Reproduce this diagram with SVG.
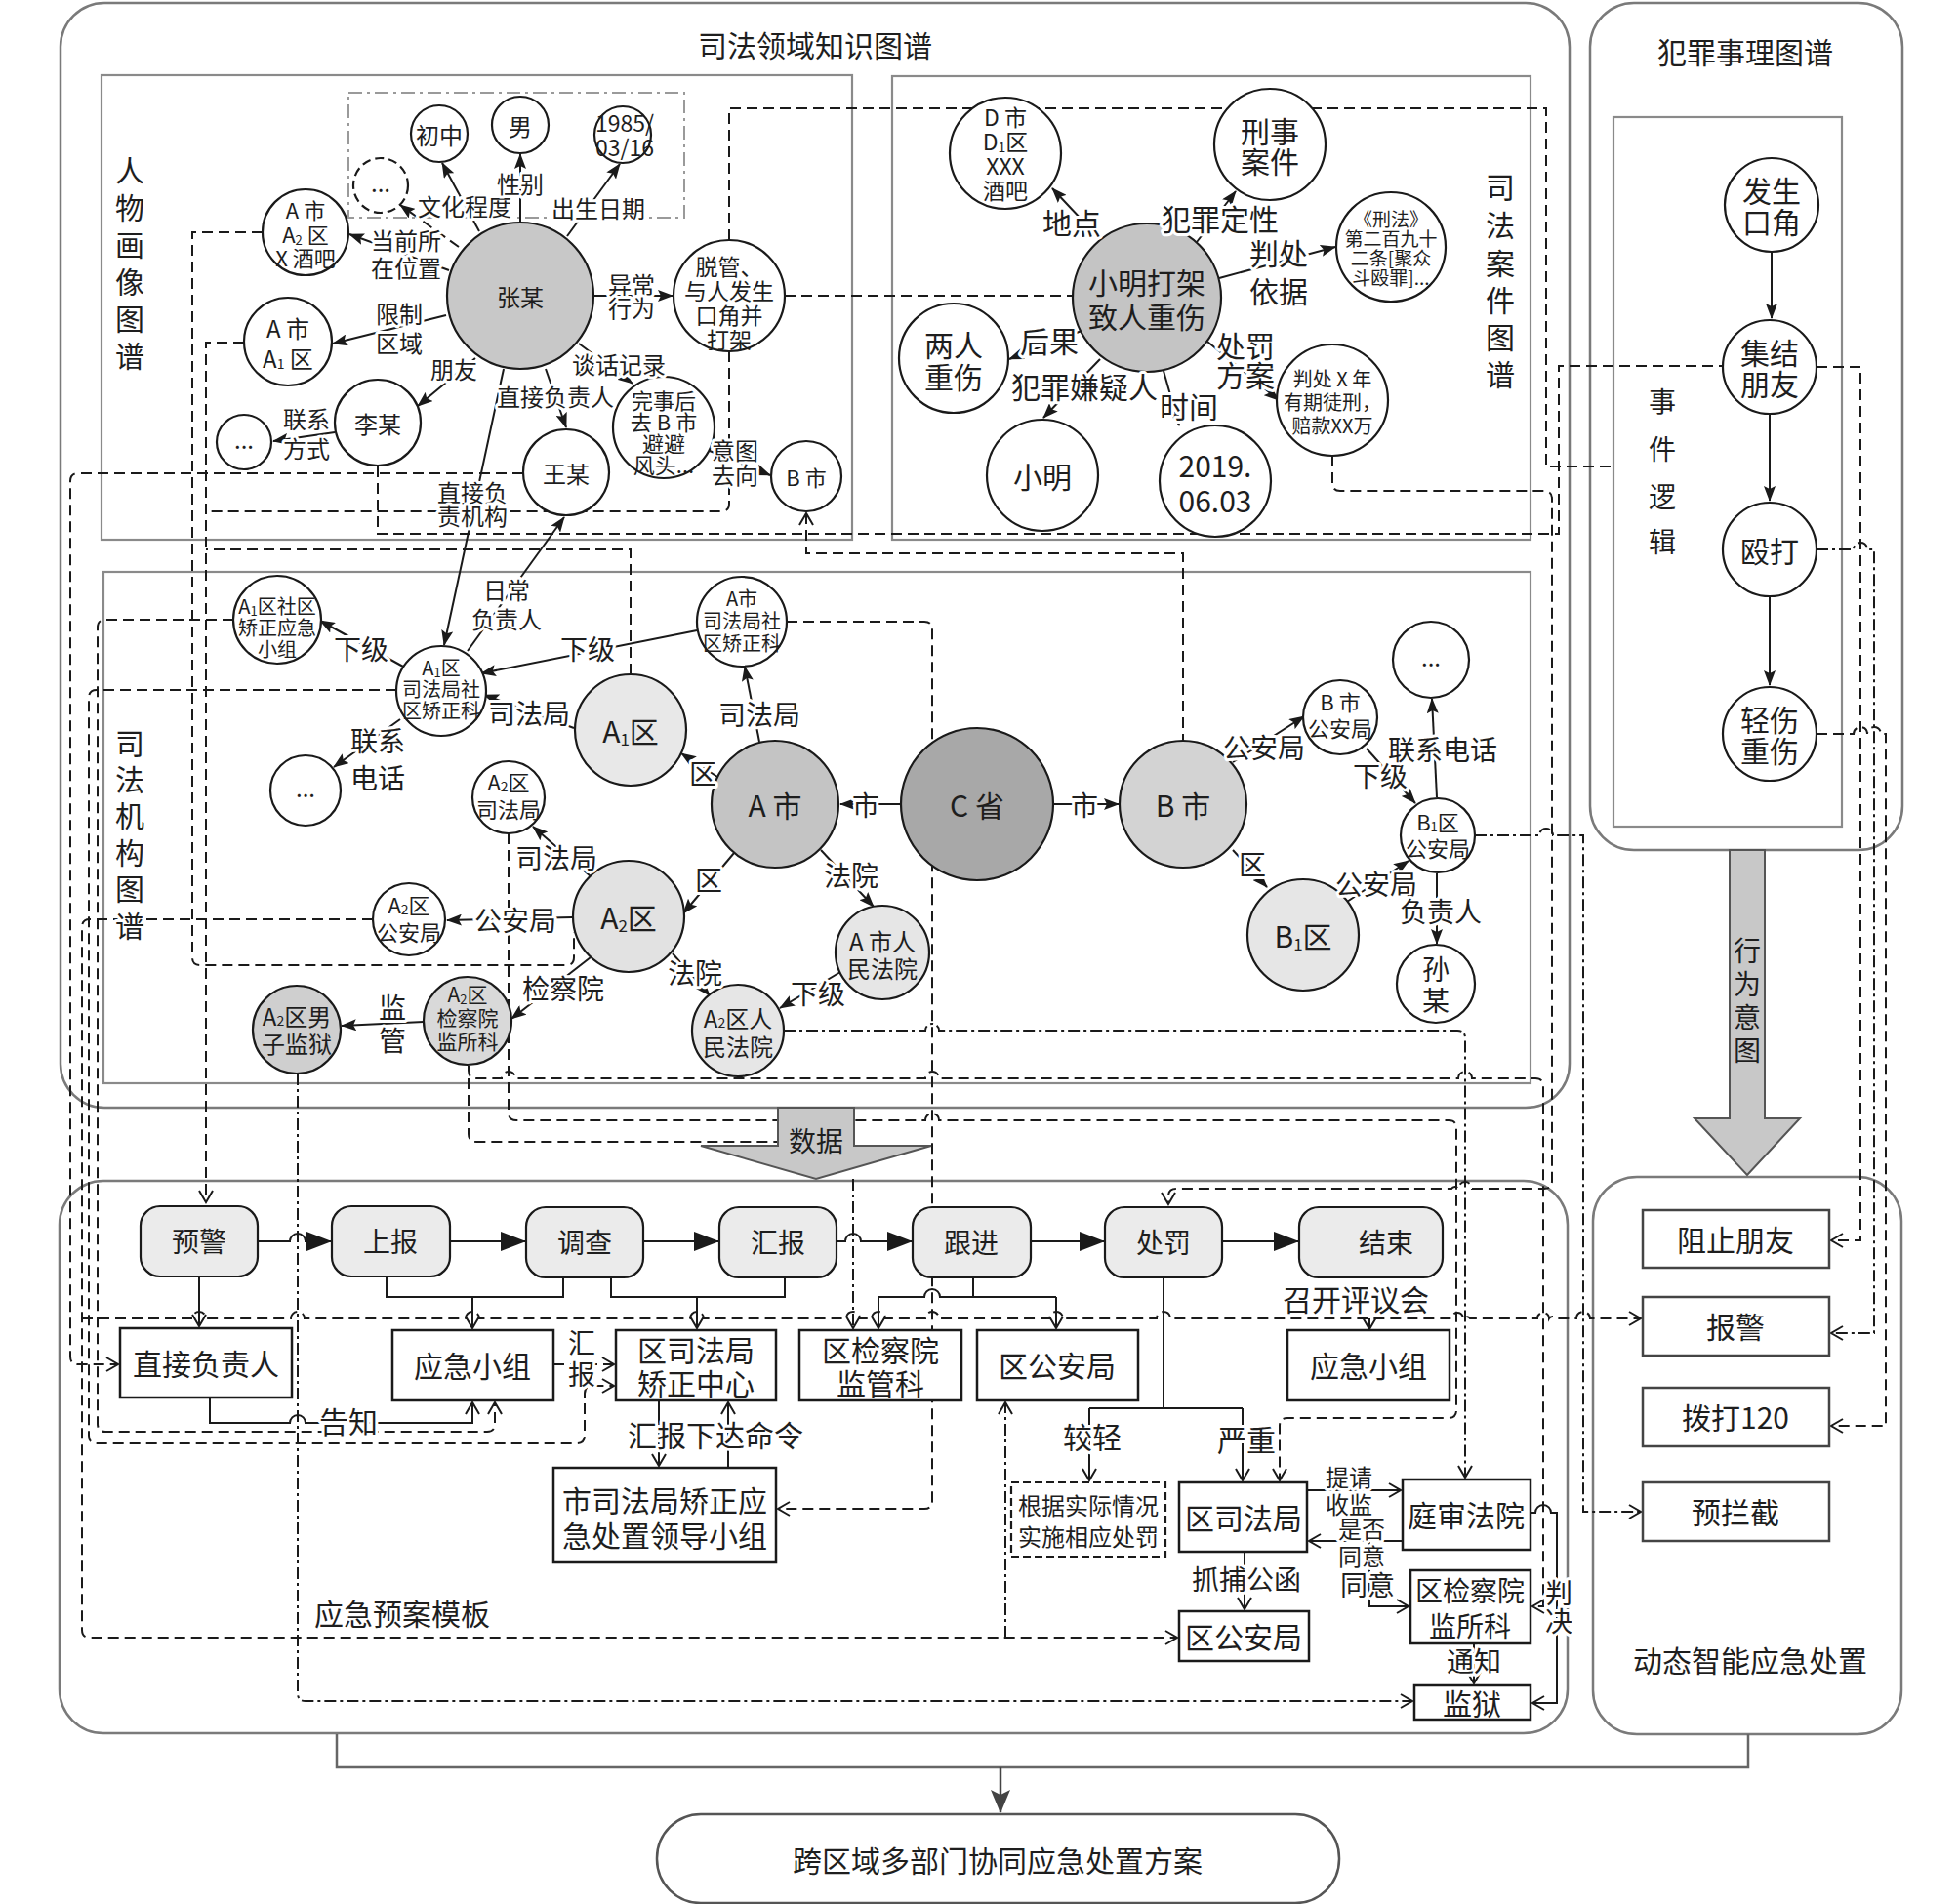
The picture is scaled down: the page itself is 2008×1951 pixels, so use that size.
<svg xmlns="http://www.w3.org/2000/svg" width="2008" height="1951" viewBox="0 0 2008 1951">
<defs>
<style>
.ctn{fill:none;stroke:#7a7a7a;stroke-width:2.5}
.box{fill:none;stroke:#8a8a8a;stroke-width:2.2}
.n{fill:#fff;stroke:#1a1a1a;stroke-width:2.2}
.e{fill:none;stroke:#1a1a1a;stroke-width:2}
.d{fill:none;stroke:#1a1a1a;stroke-width:2;stroke-dasharray:11 6}
.dd{fill:none;stroke:#1a1a1a;stroke-width:2;stroke-dasharray:12 4 3 4}
.pb{fill:#ebebeb;stroke:#1a1a1a;stroke-width:2.2}
.rb{fill:#fff;stroke:#1a1a1a;stroke-width:2.5}
text{font-family:"Noto Sans CJK SC","Noto Sans",sans-serif;fill:#1e1e1e;text-anchor:middle;dominant-baseline:central}
.lb{paint-order:stroke;stroke:#fff;stroke-width:6px;stroke-linejoin:round}
</style>
<marker id="af" markerUnits="userSpaceOnUse" markerWidth="16" markerHeight="12" refX="15" refY="6" orient="auto-start-reverse"><path d="M0,0 L16,6 L0,12 L3,6 z" fill="#1a1a1a"/></marker>
<marker id="afb" markerUnits="userSpaceOnUse" markerWidth="26" markerHeight="20" refX="25" refY="10" orient="auto"><path d="M0,0 L26,10 L0,20 z" fill="#1a1a1a"/></marker>
<marker id="afg" markerUnits="userSpaceOnUse" markerWidth="24" markerHeight="40" refX="23" refY="10" orient="auto"><path d="M0,0 L24,10 L0,20 L5,10 z" fill="#444"/></marker>
<marker id="ao" markerUnits="userSpaceOnUse" markerWidth="16" markerHeight="16" refX="14" refY="8" orient="auto-start-reverse"><path d="M2,1 L14,8 L2,15" fill="none" stroke="#1a1a1a" stroke-width="2"/></marker>
</defs>
<rect width="2008" height="1951" fill="#fff"/>

<g id="containers">
<rect class="ctn" x="62" y="3" width="1546" height="1132" rx="45"/>
<text x="835" y="45" font-size="30">司法领域知识图谱</text>
<rect class="box" x="104" y="77" width="769" height="476"/>
<rect class="box" x="914" y="78" width="654" height="475"/>
<rect class="box" x="106" y="586" width="1462" height="524"/>
<rect x="357" y="95" width="344" height="128" fill="none" stroke="#9a9a9a" stroke-width="2" stroke-dasharray="14 5 3 5"/>
<rect class="ctn" x="1629" y="3" width="320" height="868" rx="45"/>
<text x="1788" y="52" font-size="30">犯罪事理图谱</text>
<rect class="box" x="1653" y="120" width="234" height="727"/>
<rect class="ctn" x="1632" y="1206" width="316" height="571" rx="45"/>
<text x="1793" y="1700" font-size="30">动态智能应急处置</text>
<rect class="ctn" x="61" y="1210" width="1545" height="566" rx="45"/>
<text x="412" y="1652" font-size="30">应急预案模板</text>
<g font-size="30"><text x="133" y="173">人</text><text x="133" y="211">物</text><text x="133" y="249">画</text><text x="133" y="287">像</text><text x="133" y="325">图</text><text x="133" y="363">谱</text></g>
<g font-size="30"><text x="1537" y="190">司</text><text x="1537" y="229">法</text><text x="1537" y="268">案</text><text x="1537" y="306">件</text><text x="1537" y="344">图</text><text x="1537" y="382">谱</text></g>
<g font-size="28"><text x="1703" y="410">事</text><text x="1703" y="459">件</text><text x="1703" y="508">逻</text><text x="1703" y="554">辑</text></g>
</g>

<g id="connectors">
<path class="d" d="M747,246 V111 H1584 V478 H1653"/>
<path class="d" d="M804,303 H1099"/>
<path class="d" d="M747,360 V516 Q747,524 739,524 H211"/>
<path class="d" d="M646,691 V563 H211"/>
<path class="d" d="M250,351 H211 V1232" marker-end="url(#ao)"/>
<path class="d" d="M269,238 H197 V981 Q197,989 205,989 H580 Q588,989 588,981 V955"/>
<path class="d" d="M536,485 H80 Q72,485 72,493 V1390 Q72,1398 80,1398 H121" marker-end="url(#ao)"/>
<path class="d" d="M387,478 V547 H1597 V375 H1765"/>
<path class="d" d="M239,635 H108 Q100,635 100,643 V1459 Q100,1467 108,1467 H499 Q507,1467 507,1459 V1437" marker-end="url(#ao)"/>
<path class="d" d="M406,707 H99 Q91,707 91,715 V1471 Q91,1479 99,1479 H591 Q599,1479 599,1471 V1428 Q599,1420 607,1420 H629" marker-end="url(#ao)"/>
<path class="d" d="M382,942 H92 Q84,942 84,950 V1670 Q84,1678 92,1678 H1206" marker-end="url(#ao)"/>
<path class="dd" d="M1030,1678 V1437" marker-end="url(#ao)"/>
<path class="d" d="M84,1351 H197 A7,7 0 0 1 211,1351 H298 A7,7 0 0 1 312,1351 H477 A7,7 0 0 1 491,1351 H707 A7,7 0 0 1 721,1351 H867 A7,7 0 0 1 881,1351 H893 A7,7 0 0 1 907,1351 H948 A7,7 0 0 1 962,1351 H1075 A7,7 0 0 1 1089,1351 H1185 A7,7 0 0 1 1199,1351 H1487 A6,6 0 0 1 1499,1351 A4,4 0 0 1 1506,1351 H1575 A6,6 0 0 1 1587,1351 A4,4 0 0 1 1594,1351 H1615 A7,7 0 0 1 1629,1351 H1681" marker-end="url(#ao)"/>
<path class="d" d="M1403,1351 V1362" marker-end="url(#ao)"/>
<path class="dd" d="M305,1100 V1735 Q305,1743 313,1743 H1447" marker-end="url(#ao)"/>
<path class="d" d="M480,1092 V1097 Q480,1105 488,1105 H514 A7,7 0 0 1 528,1105 H948 A7,7 0 0 1 962,1105 H1494 A7,7 0 0 1 1508,1105 H1573 Q1581,1105 1581,1113 V1646 H1570" marker-end="url(#ao)"/>
<path class="d" d="M480,1105 V1162 Q480,1170 488,1170 H797"/>
<path class="d" d="M521,854 V1140 Q521,1148 529,1148 H948 A7,7 0 0 1 962,1148 H1484 Q1492,1148 1492,1156 V1445 Q1492,1453 1484,1453 H1319 Q1311,1453 1311,1461 V1517" marker-end="url(#ao)"/>
<path class="dd" d="M803,1056 H948 A7,7 0 0 1 962,1056 H1493 Q1501,1056 1501,1064 V1514" marker-end="url(#ao)"/>
<path class="d" d="M806,637 H947 Q955,637 955,645 V1538 Q955,1546 947,1546 H797" marker-end="url(#ao)"/>
<path class="d" d="M826,526 V567 H1212 V759" marker-start="url(#ao)"/>
<path class="dd" d="M1511,856 H1577 A7,7 0 0 1 1591,856 H1622 V1549 H1681" marker-end="url(#ao)"/>
<path class="d" d="M1365,467 V495 Q1365,503 1373,503 H1582 Q1590,503 1590,511 V1210 Q1590,1218 1582,1218 H1508 A7,7 0 0 0 1494,1218 A4,4 0 0 0 1487,1218 H1205 Q1197,1218 1197,1226 V1234" marker-end="url(#ao)"/>
<path class="d" d="M1861,376 H1906 V1271 H1876" marker-end="url(#ao)"/>
<path class="dd" d="M1861,563 H1899 A7,7 0 0 1 1913,563 H1920 V1366 H1876" marker-end="url(#ao)"/>
<path class="d" d="M1861,752 H1899 A7,7 0 0 1 1913,752 A7,7 0 0 1 1927,752 H1932 V1461 H1876" marker-end="url(#ao)"/>
<path class="dd" d="M874,1208 V1361" marker-end="url(#ao)"/>

<!-- person graph edges -->
<path class="e" d="M491,237 L453,167" marker-end="url(#af)"/>
<path class="e" d="M533,228 L533,158" marker-end="url(#af)"/>
<path class="e" d="M581,242 L635,168" marker-end="url(#af)"/>
<path class="d" d="M470,253 L410,210" marker-end="url(#af)"/>
<path class="e" d="M460,277 L358,240" marker-end="url(#af)"/>
<path class="e" d="M457,323 L341,352" marker-end="url(#af)"/>
<path class="e" d="M487,367 L428,416" marker-end="url(#af)"/>
<path class="e" d="M608,303 L689,303" marker-end="url(#af)"/>
<path class="e" d="M593,352 L648,393" marker-end="url(#af)"/>
<path class="e" d="M559,378 L580,438" marker-end="url(#af)"/>
<path class="e" d="M516,378 L455,661" marker-end="url(#af)"/>
<path class="e" d="M479,667 L578,530" marker-end="url(#af)"/>
<path class="e" d="M343,443 L280,452" marker-end="url(#af)"/>
<path class="e" d="M722,460 L789,487" marker-end="url(#af)"/>
<!-- case graph edges -->
<path class="e" d="M1124,242 L1078,193" marker-end="url(#af)"/>
<path class="e" d="M1226,248 L1266,196" marker-end="url(#af)"/>
<path class="e" d="M1249,285 L1368,253" marker-end="url(#af)"/>
<path class="e" d="M1113,337 L1034,368" marker-end="url(#af)"/>
<path class="e" d="M1127,368 L1069,428" marker-end="url(#af)"/>
<path class="e" d="M1192,380 L1208,436" marker-end="url(#af)"/>
<path class="e" d="M1237,350 L1310,410" marker-end="url(#af)"/>
<!-- institution edges -->
<path class="e" d="M413,683 L328,636" marker-end="url(#af)"/>
<path class="e" d="M714,646 L493,690" marker-end="url(#af)"/>
<path class="e" d="M588,746 L496,712" marker-end="url(#af)"/>
<path class="e" d="M778,760 L763,683" marker-end="url(#af)"/>
<path class="e" d="M410,737 L342,786" marker-end="url(#af)"/>
<path class="e" d="M735,796 L698,772" marker-end="url(#af)"/>
<path class="e" d="M923,824 L861,824" marker-end="url(#af)"/>
<path class="e" d="M605,898 L546,847" marker-end="url(#af)"/>
<path class="e" d="M752,874 L700,936" marker-end="url(#af)"/>
<path class="e" d="M841,871 L895,929" marker-end="url(#af)"/>
<path class="e" d="M586,940 L458,943" marker-end="url(#af)"/>
<path class="e" d="M689,977 L727,1020" marker-end="url(#af)"/>
<path class="e" d="M605,981 L524,1044" marker-end="url(#af)"/>
<path class="e" d="M861,996 L799,1033" marker-end="url(#af)"/>
<path class="e" d="M434,1047 L350,1051" marker-end="url(#af)"/>
<path class="e" d="M1079,824 L1146,824" marker-end="url(#af)"/>
<path class="e" d="M1263,781 L1336,734" marker-end="url(#af)"/>
<path class="e" d="M1400,767 L1450,823" marker-end="url(#af)"/>
<path class="e" d="M1472,817 L1467,716" marker-end="url(#af)"/>
<path class="e" d="M1263,871 L1298,909" marker-end="url(#af)"/>
<path class="e" d="M1380,924 L1443,882" marker-end="url(#af)"/>
<path class="e" d="M1472,895 L1472,967" marker-end="url(#af)"/>
<!-- event logic -->
<path class="e" d="M1815,258 V326" marker-end="url(#af)"/>
<path class="e" d="M1813,424 V513" marker-end="url(#af)"/>
<path class="e" d="M1813,611 V702" marker-end="url(#af)"/>
<!-- process flow -->
<path class="e" d="M264,1272 H297 A8,8 0 0 1 313,1272 H339" marker-end="url(#afb)"/>
<path class="e" d="M461,1272 H538" marker-end="url(#afb)"/>
<path class="e" d="M659,1272 H736" marker-end="url(#afb)"/>
<path class="e" d="M857,1272 H866 A8,8 0 0 1 882,1272 H934" marker-end="url(#afb)"/>
<path class="e" d="M1056,1272 H1131" marker-end="url(#afb)"/>
<path class="e" d="M1252,1272 H1330" marker-end="url(#afb)"/>
<path class="e" d="M204,1308 V1359" marker-end="url(#ao)"/>
<path class="e" d="M396,1308 V1329 H577 V1308"/>
<path class="e" d="M484,1329 V1361" marker-end="url(#ao)"/>
<path class="e" d="M626,1308 V1329 H804 V1308"/>
<path class="e" d="M714,1329 V1361" marker-end="url(#ao)"/>
<path class="e" d="M997,1309 V1329"/>
<path class="e" d="M900,1329 H947 A8,8 0 0 1 963,1329 H1082"/>
<path class="e" d="M900,1329 V1361" marker-end="url(#ao)"/>
<path class="e" d="M1082,1329 V1361" marker-end="url(#ao)"/>
<path class="e" d="M1192,1308 V1443"/>
<path class="e" d="M1116,1443 H1273"/>
<path class="e" d="M1116,1443 V1517" marker-end="url(#ao)"/>
<path class="e" d="M1273,1443 V1517" marker-end="url(#ao)"/>
<path class="e" d="M215,1432 V1458 H297 A8,8 0 0 1 313,1458 H484 V1437" marker-end="url(#ao)"/>
<path class="d" d="M567,1398 H629" marker-end="url(#ao)"/>
<path class="e" d="M675,1435 V1502" marker-end="url(#ao)"/>
<path class="e" d="M746,1504 V1437" marker-end="url(#ao)"/>
<path class="e" d="M1339,1527 H1435" marker-end="url(#ao)"/>
<path class="e" d="M1437,1579 H1341" marker-end="url(#ao)"/>
<path class="e" d="M1403,1579 V1646 H1443" marker-end="url(#ao)"/>
<path class="e" d="M1275,1590 V1649" marker-end="url(#ao)"/>
<path class="e" d="M1510,1684 V1725" marker-end="url(#ao)"/>
<path class="e" d="M1568,1550 H1573 A8,8 0 0 1 1589,1550 H1595 V1745 H1570" marker-end="url(#ao)"/>
<!-- bottom bracket -->
<path d="M345,1777 V1811 H1791 V1777" fill="none" stroke="#666" stroke-width="2.5"/>
<path d="M1025,1811 V1857" fill="none" stroke="#444" stroke-width="2.5" marker-end="url(#afg)"/>
</g>

<g id="big-arrows">
<polygon points="797,1135 875,1135 875,1174 954,1174 836,1208 718,1174 797,1174" fill="#c8c8c8" stroke="#555" stroke-width="2"/>
<text x="836" y="1168" font-size="28">数据</text>
<polygon points="1772,871 1808,871 1808,1146 1844,1146 1790,1204 1736,1146 1772,1146" fill="#c8c8c8" stroke="#555" stroke-width="2"/>
<g font-size="28"><text x="1790" y="973">行</text><text x="1790" y="1007">为</text><text x="1790" y="1041">意</text><text x="1790" y="1075">图</text></g>
</g>

<g id="person-nodes" font-size="24">
<g id="n-zhang"><circle class="n" cx="533" cy="303" r="75" style="fill:#c8c8c8"/><text x="533" y="303">张某</text></g>
<g id="n-chuzhong"><circle class="n" cx="450" cy="137" r="29"/><text x="450" y="137">初中</text></g>
<g id="n-nan"><circle class="n" cx="533" cy="128" r="29"/><text x="533" y="128">男</text></g>
<g id="n-birth"><circle class="n" cx="638" cy="138" r="29"/><text font-size="23"><tspan x="640" y="125">1985/</tspan><tspan x="640" y="150">03/16</tspan></text></g>
<g id="n-etc1"><circle class="n" cx="390" cy="190" r="28" stroke-dasharray="9 5"/><text x="390" y="186">...</text></g>
<g id="n-bar"><circle class="n" cx="313" cy="238" r="44"/><text font-size="22"><tspan x="313" y="214">A 市</tspan><tspan x="313" y="239">A<tspan font-size="13" dy="6">2</tspan><tspan dy="-6"> 区</tspan></tspan><tspan x="313" y="263">X 酒吧</tspan></text></g>
<g id="n-a1area"><circle class="n" cx="295" cy="350" r="45"/><text><tspan x="295" y="335">A 市</tspan><tspan x="295" y="366">A<tspan font-size="14" dy="6">1</tspan><tspan dy="-6"> 区</tspan></tspan></text></g>
<g id="n-li"><circle class="n" cx="387" cy="433" r="44"/><text x="387" y="433">李某</text></g>
<g id="n-etc2"><circle class="n" cx="250" cy="453" r="28"/><text x="250" y="449">...</text></g>
<g id="n-tuoguan"><circle class="n" cx="747" cy="303" r="57"/><text font-size="23"><tspan x="747" y="272">脱管、</tspan><tspan x="747" y="297">与人发生</tspan><tspan x="747" y="322">口角并</tspan><tspan x="747" y="347">打架</tspan></text></g>
<g id="n-after"><circle class="n" cx="680" cy="438" r="52"/><text font-size="22"><tspan x="680" y="409">完事后</tspan><tspan x="680" y="431">去 B 市</tspan><tspan x="680" y="453">避避</tspan><tspan x="680" y="475">风头...</tspan></text></g>
<g id="n-wang"><circle class="n" cx="580" cy="484" r="44"/><text x="580" y="484">王某</text></g>
<g id="n-bcity1"><circle class="n" cx="826" cy="488" r="36"/><text x="826" y="488" font-size="22">B 市</text></g>
</g>

<g id="case-nodes" font-size="30">
<g id="n-case"><circle class="n" cx="1175" cy="305" r="76" style="fill:#c4c4c4"/><text><tspan x="1175" y="288">小明打架</tspan><tspan x="1175" y="323">致人重伤</tspan></text></g>
<g id="n-dcity"><circle class="n" cx="1030" cy="157" r="57"/><text font-size="23"><tspan x="1030" y="119">D 市</tspan><tspan x="1030" y="144">D<tspan font-size="14" dy="6">1</tspan><tspan dy="-6">区</tspan></tspan><tspan x="1030" y="169">XXX</tspan><tspan x="1030" y="194">酒吧</tspan></text></g>
<g id="n-xingshi"><circle class="n" cx="1301" cy="148" r="57"/><text><tspan x="1301" y="133">刑事</tspan><tspan x="1301" y="164">案件</tspan></text></g>
<g id="n-law"><circle class="n" cx="1425" cy="253" r="56"/><text font-size="19"><tspan x="1425" y="223">《刑法》</tspan><tspan x="1425" y="243">第二百九十</tspan><tspan x="1425" y="263">二条[聚众</tspan><tspan x="1425" y="283">斗殴罪]...</tspan></text></g>
<g id="n-injury"><circle class="n" cx="977" cy="367" r="56"/><text><tspan x="977" y="352">两人</tspan><tspan x="977" y="385">重伤</tspan></text></g>
<g id="n-sentence"><circle class="n" cx="1365" cy="410" r="57"/><text font-size="20"><tspan x="1365" y="387">判处 X 年</tspan><tspan x="1365" y="411">有期徒刑，</tspan><tspan x="1365" y="435">赔款XX万</tspan></text></g>
<g id="n-xiaoming"><circle class="n" cx="1068" cy="487" r="57"/><text x="1068" y="487">小明</text></g>
<g id="n-date"><circle class="n" cx="1245" cy="493" r="57"/><text><tspan x="1245" y="476">2019.</tspan><tspan x="1245" y="512">06.03</tspan></text></g>
</g>

<g id="inst-nodes" font-size="30">
<g id="n-a1group"><circle class="n" cx="284" cy="635" r="45"/><text font-size="20"><tspan x="284" y="620">A<tspan font-size="13" dy="5">1</tspan><tspan dy="-5">区社区</tspan></tspan><tspan x="284" y="642">矫正应急</tspan><tspan x="284" y="664">小组</tspan></text></g>
<g id="n-a1jud"><circle class="n" cx="452" cy="708" r="46"/><text font-size="20"><tspan x="452" y="683">A<tspan font-size="13" dy="5">1</tspan><tspan dy="-5">区</tspan></tspan><tspan x="452" y="705">司法局社</tspan><tspan x="452" y="727">区矫正科</tspan></text></g>
<g id="n-ajud"><circle class="n" cx="760" cy="637" r="46"/><text font-size="20"><tspan x="760" y="612">A市</tspan><tspan x="760" y="635">司法局社</tspan><tspan x="760" y="658">区矫正科</tspan></text></g>
<g id="n-a1"><circle class="n" cx="646" cy="748" r="57" style="fill:#e8e8e8"/><text x="646" y="748">A<tspan font-size="17" dy="8">1</tspan><tspan dy="-8">区</tspan></text></g>
<g id="n-etc3"><circle class="n" cx="313" cy="810" r="36"/><text x="313" y="806" font-size="24">...</text></g>
<g id="n-a2jud"><circle class="n" cx="521" cy="817" r="37"/><text font-size="22"><tspan x="521" y="800">A<tspan font-size="14" dy="5">2</tspan><tspan dy="-5">区</tspan></tspan><tspan x="521" y="828">司法局</tspan></text></g>
<g id="n-acity"><circle class="n" cx="794" cy="824" r="65" style="fill:#c4c4c4"/><text x="794" y="824">A 市</text></g>
<g id="n-a2"><circle class="n" cx="644" cy="939" r="57" style="fill:#e2e2e2"/><text x="644" y="939">A<tspan font-size="17" dy="8">2</tspan><tspan dy="-8">区</tspan></text></g>
<g id="n-a2police"><circle class="n" cx="419" cy="942" r="37"/><text font-size="22"><tspan x="419" y="926">A<tspan font-size="14" dy="5">2</tspan><tspan dy="-5">区</tspan></tspan><tspan x="419" y="954">公安局</tspan></text></g>
<g id="n-acourt"><circle class="n" cx="904" cy="976" r="48" style="fill:#e6e6e6"/><text font-size="24"><tspan x="904" y="963">A 市人</tspan><tspan x="904" y="991">民法院</tspan></text></g>
<g id="n-a2court"><circle class="n" cx="756" cy="1056" r="47" style="fill:#e6e6e6"/><text font-size="24"><tspan x="756" y="1042">A<tspan font-size="14" dy="5">2</tspan><tspan dy="-5">区人</tspan></tspan><tspan x="756" y="1071">民法院</tspan></text></g>
<g id="n-a2proc"><circle class="n" cx="479" cy="1046" r="45" style="fill:#d9d9d9"/><text font-size="21"><tspan x="479" y="1018">A<tspan font-size="13" dy="5">2</tspan><tspan dy="-5">区</tspan></tspan><tspan x="479" y="1042">检察院</tspan><tspan x="479" y="1066">监所科</tspan></text></g>
<g id="n-a2prison"><circle class="n" cx="304" cy="1055" r="45" style="fill:#cfcfcf"/><text font-size="24"><tspan x="304" y="1040">A<tspan font-size="14" dy="5">2</tspan><tspan dy="-5">区男</tspan></tspan><tspan x="304" y="1068">子监狱</tspan></text></g>
<g id="n-cprov"><circle class="n" cx="1001" cy="824" r="78" style="fill:#a8a8a8"/><text x="1001" y="824">C 省</text></g>
<g id="n-bcity"><circle class="n" cx="1212" cy="824" r="65" style="fill:#d3d3d3"/><text x="1212" y="824">B 市</text></g>
<g id="n-bpolice"><circle class="n" cx="1373" cy="735" r="38"/><text font-size="22"><tspan x="1373" y="718">B 市</tspan><tspan x="1373" y="745">公安局</tspan></text></g>
<g id="n-etc4"><circle class="n" cx="1466" cy="676" r="39"/><text x="1466" y="672" font-size="24">...</text></g>
<g id="n-b1police"><circle class="n" cx="1473" cy="856" r="38"/><text font-size="22"><tspan x="1473" y="841">B<tspan font-size="13" dy="5">1</tspan><tspan dy="-5">区</tspan></tspan><tspan x="1473" y="868">公安局</tspan></text></g>
<g id="n-b1"><circle class="n" cx="1335" cy="958" r="57" style="fill:#e6e6e6"/><text x="1335" y="958">B<tspan font-size="17" dy="8">1</tspan><tspan dy="-8">区</tspan></text></g>
<g id="n-sun"><circle class="n" cx="1471" cy="1008" r="40"/><text font-size="28"><tspan x="1471" y="992">孙</tspan><tspan x="1471" y="1024">某</tspan></text></g>
</g>

<g id="event-nodes" font-size="30">
<g id="n-e1"><circle class="n" cx="1815" cy="210" r="48"/><text><tspan x="1815" y="194">发生</tspan><tspan x="1815" y="226">口角</tspan></text></g>
<g id="n-e2"><circle class="n" cx="1813" cy="376" r="48"/><text><tspan x="1813" y="360">集结</tspan><tspan x="1813" y="392">朋友</tspan></text></g>
<g id="n-e3"><circle class="n" cx="1813" cy="563" r="48"/><text x="1813" y="563">殴打</text></g>
<g id="n-e4"><circle class="n" cx="1813" cy="752" r="48"/><text><tspan x="1813" y="736">轻伤</tspan><tspan x="1813" y="768">重伤</tspan></text></g>
</g>

<g id="response-nodes" font-size="30">
<g id="r1"><rect class="rb" x="1683" y="1240" width="191" height="59" style="stroke:#444"/><text x="1778" y="1269">阻止朋友</text></g>
<g id="r2"><rect class="rb" x="1683" y="1329" width="191" height="60" style="stroke:#444"/><text x="1778" y="1358">报警</text></g>
<g id="r3"><rect class="rb" x="1683" y="1422" width="191" height="60" style="stroke:#444"/><text x="1778" y="1451">拨打120</text></g>
<g id="r4"><rect class="rb" x="1683" y="1519" width="191" height="60" style="stroke:#444"/><text x="1778" y="1548">预拦截</text></g>
</g>

<g id="process-nodes" font-size="28">
<g id="p1"><rect class="pb" x="144" y="1236" width="120" height="72" rx="20"/><text x="204" y="1271">预警</text></g>
<g id="p2"><rect class="pb" x="340" y="1236" width="121" height="72" rx="20"/><text x="400" y="1271">上报</text></g>
<g id="p3"><rect class="pb" x="539" y="1237" width="120" height="72" rx="20"/><text x="599" y="1272">调查</text></g>
<g id="p4"><rect class="pb" x="737" y="1237" width="120" height="72" rx="20"/><text x="797" y="1272">汇报</text></g>
<g id="p5"><rect class="pb" x="935" y="1237" width="121" height="72" rx="20"/><text x="995" y="1272">跟进</text></g>
<g id="p6"><rect class="pb" x="1132" y="1237" width="120" height="72" rx="20"/><text x="1192" y="1272">处罚</text></g>
<g id="p7"><rect class="pb" x="1331" y="1237" width="147" height="72" rx="20"/><text x="1420" y="1272">结束</text></g>
<g id="b1"><rect class="rb" x="123" y="1361" width="176" height="71"/><text x="211" y="1396" font-size="30">直接负责人</text></g>
<g id="b2"><rect class="rb" x="402" y="1363" width="165" height="72"/><text x="484" y="1398" font-size="30">应急小组</text></g>
<g id="b3"><rect class="rb" x="631" y="1363" width="164" height="72"/><text font-size="30"><tspan x="713" y="1382">区司法局</tspan><tspan x="713" y="1416">矫正中心</tspan></text></g>
<g id="b4"><rect class="rb" x="819" y="1363" width="166" height="72"/><text font-size="30"><tspan x="902" y="1382">区检察院</tspan><tspan x="902" y="1416">监管科</tspan></text></g>
<g id="b5"><rect class="rb" x="1001" y="1363" width="165" height="72"/><text x="1083" y="1398" font-size="30">区公安局</text></g>
<g id="b6"><rect class="rb" x="1319" y="1363" width="166" height="72"/><text x="1402" y="1398" font-size="30">应急小组</text></g>
<g id="b7"><rect class="rb" x="567" y="1504" width="228" height="97"/><text font-size="30"><tspan x="681" y="1536">市司法局矫正应</tspan><tspan x="681" y="1572">急处置领导小组</tspan></text></g>
<g id="b8"><rect x="1036" y="1519" width="158" height="76" fill="#fff" stroke="#1a1a1a" stroke-width="2.2" stroke-dasharray="8 4"/><text font-size="24"><tspan x="1115" y="1541">根据实际情况</tspan><tspan x="1115" y="1573">实施相应处罚</tspan></text></g>
<g id="b9"><rect class="rb" x="1208" y="1519" width="131" height="71"/><text x="1274" y="1554" font-size="30">区司法局</text></g>
<g id="b10"><rect class="rb" x="1437" y="1516" width="131" height="72"/><text x="1502" y="1551" font-size="30">庭审法院</text></g>
<g id="b11"><rect class="rb" x="1208" y="1651" width="133" height="51"/><text x="1274" y="1676" font-size="30">区公安局</text></g>
<g id="b12"><rect class="rb" x="1445" y="1609" width="123" height="75"/><text font-size="28"><tspan x="1506" y="1629">区检察院</tspan><tspan x="1506" y="1665">监所科</tspan></text></g>
<g id="b13"><rect class="rb" x="1449" y="1727" width="119" height="35"/><text x="1508" y="1744" font-size="30">监狱</text></g>
</g>

<g id="final">
<rect x="673" y="1859" width="699" height="91" rx="45" fill="#fff" stroke="#555" stroke-width="2.5"/>
<text x="1022" y="1905" font-size="30">跨区域多部门协同应急处置方案</text>
</g>

<g id="edge-labels">
<g font-size="24" class="lb">
<text x="476" y="210">文化程度</text>
<text x="533" y="187">性别</text>
<text x="613" y="212">出生日期</text>
<text><tspan x="416" y="245">当前所</tspan><tspan x="416" y="273">在位置</tspan></text>
<text><tspan x="409" y="320">限制</tspan><tspan x="409" y="350">区域</tspan></text>
<text x="465" y="377">朋友</text>
<text><tspan x="647" y="290">异常</tspan><tspan x="647" y="314">行为</tspan></text>
<text x="634" y="372">谈话记录</text>
<text x="569" y="405">直接负责人</text>
<text><tspan x="314" y="428">联系</tspan><tspan x="314" y="458">方式</tspan></text>
<text><tspan x="484" y="503">直接负</tspan><tspan x="484" y="527">责机构</tspan></text>
<text><tspan x="753" y="460">意图</tspan><tspan x="753" y="485">去向</tspan></text>
<text><tspan x="519" y="603">日常</tspan><tspan x="519" y="633">负责人</tspan></text>
</g>
<g font-size="30" class="lb">
<text x="1098" y="227">地点</text>
<text x="1250" y="223">犯罪定性</text>
<text><tspan x="1310" y="258">判处</tspan><tspan x="1310" y="297">依据</tspan></text>
<text x="1075" y="348">后果</text>
<text x="1111" y="395">犯罪嫌疑人</text>
<text x="1218" y="415">时间</text>
<text><tspan x="1276" y="353">处罚</tspan><tspan x="1276" y="383">方案</tspan></text>
</g>
<g font-size="28" class="lb">
<text x="370" y="664">下级</text>
<text x="602" y="664">下级</text>
<text x="542" y="730">司法局</text>
<text x="778" y="731">司法局</text>
<text><tspan x="387" y="758">联系</tspan><tspan x="387" y="796">电话</tspan></text>
<text x="720" y="792">区</text>
<text x="887" y="824">市</text>
<text x="570" y="878">司法局</text>
<text x="726" y="901">区</text>
<text x="872" y="896">法院</text>
<text x="528" y="942">公安局</text>
<text x="712" y="996">法院</text>
<text x="577" y="1012">检察院</text>
<text x="838" y="1017">下级</text>
<text><tspan x="402" y="1031">监</tspan><tspan x="402" y="1065">管</tspan></text>
<text x="1111" y="824">市</text>
<text x="1295" y="765">公安局</text>
<text x="1414" y="794">下级</text>
<text x="1478" y="767">联系电话</text>
<text x="1283" y="885">区</text>
<text x="1410" y="905">公安局</text>
<text x="1476" y="933">负责人</text>
</g>
<g font-size="30" class="lb">
<text x="133" y="760">司</text><text x="133" y="797">法</text><text x="133" y="834">机</text><text x="133" y="872">构</text><text x="133" y="909">图</text><text x="133" y="947">谱</text>
<text x="357" y="1455">告知</text>
<text x="733" y="1469">汇报下达命令</text>
<text x="1389" y="1330">召开评议会</text>
<text x="1119" y="1471">较轻</text>
<text x="1277" y="1474">严重</text>
</g>
<g font-size="28" class="lb">
<text><tspan x="596" y="1375">汇</tspan><tspan x="596" y="1407">报</tspan></text>
<text x="1277" y="1617">抓捕公函</text>
<text x="1510" y="1701">通知</text>
<text><tspan x="1597" y="1631">判</tspan><tspan x="1597" y="1660">决</tspan></text>
<text x="1401" y="1623">同意</text>
</g>
<g font-size="24" class="lb">
<text><tspan x="1382" y="1512">提请</tspan><tspan x="1382" y="1540">收监</tspan></text>
<text><tspan x="1395" y="1565">是否</tspan><tspan x="1395" y="1593">同意</tspan></text>
</g>
</g>
</svg>
